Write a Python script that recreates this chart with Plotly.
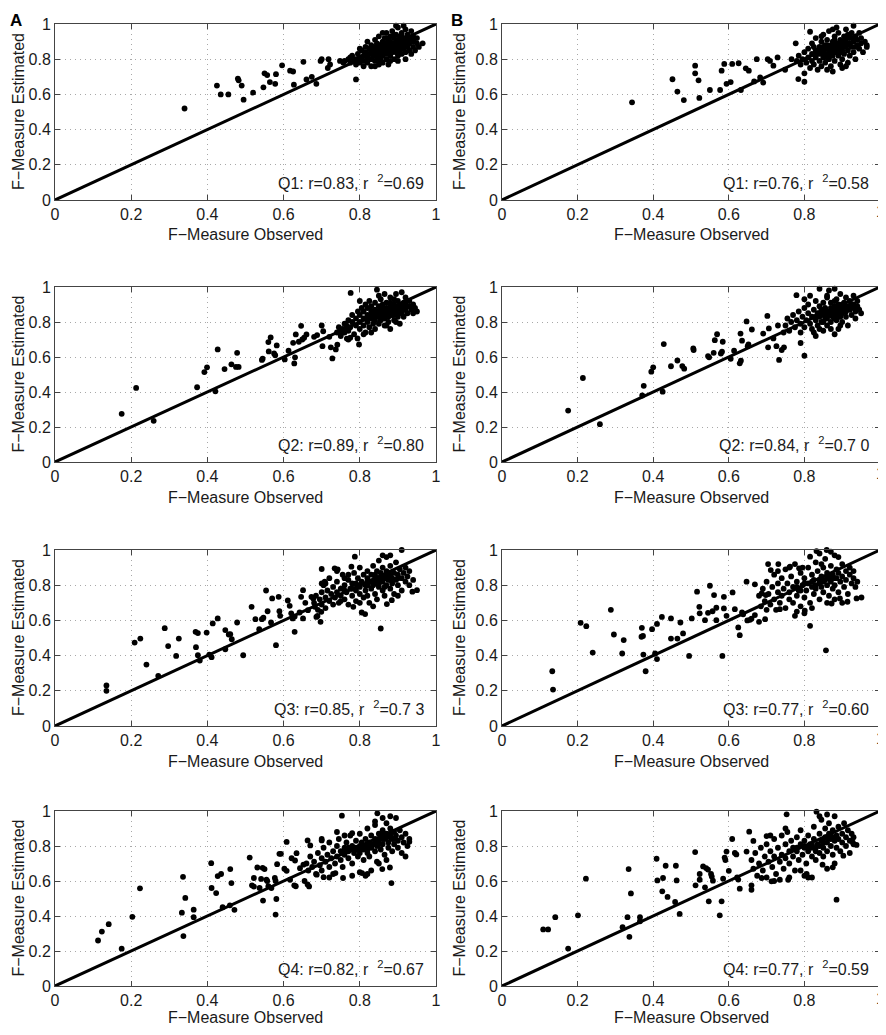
import plotly.graph_objects as go

# ---------------- data: (F-Measure observed, F-Measure estimated) ----------------
q1a = [
    (0.34, 0.52), (0.425, 0.65), (0.435, 0.60), (0.455, 0.60), (0.48, 0.69), (0.482, 0.68),
    (0.49, 0.65), (0.495, 0.57), (0.52, 0.61), (0.55, 0.72), (0.557, 0.71), (0.547, 0.64),
    (0.564, 0.67), (0.578, 0.66), (0.58, 0.715), (0.596, 0.765), (0.617, 0.735), (0.625, 0.73),
    (0.627, 0.655), (0.652, 0.785), (0.66, 0.685), (0.674, 0.70), (0.686, 0.66), (0.697, 0.79),
    (0.70, 0.80), (0.716, 0.75), (0.722, 0.77), (0.718, 0.80), (0.748, 0.79), (0.757, 0.78),
    (0.79, 0.685),
    (0.77, 0.80), (0.775, 0.78), (0.78, 0.82), (0.785, 0.79), (0.79, 0.80), (0.79, 0.77),
    (0.795, 0.83), (0.80, 0.81), (0.80, 0.78), (0.805, 0.85), (0.81, 0.82), (0.81, 0.79),
    (0.81, 0.76), (0.815, 0.84), (0.815, 0.87), (0.82, 0.81), (0.82, 0.78), (0.82, 0.90),
    (0.825, 0.83), (0.825, 0.86), (0.83, 0.80), (0.83, 0.84), (0.83, 0.88), (0.83, 0.76),
    (0.835, 0.82), (0.835, 0.86), (0.84, 0.79), (0.84, 0.83), (0.84, 0.87), (0.84, 0.91),
    (0.845, 0.81), (0.845, 0.85), (0.845, 0.89), (0.85, 0.77), (0.85, 0.83), (0.85, 0.86),
    (0.85, 0.93), (0.855, 0.80), (0.855, 0.88), (0.855, 0.84), (0.86, 0.82), (0.86, 0.86),
    (0.86, 0.90), (0.86, 0.78), (0.865, 0.84), (0.865, 0.88), (0.865, 0.92), (0.87, 0.80),
    (0.87, 0.83), (0.87, 0.86), (0.87, 0.89), (0.87, 0.95), (0.875, 0.85), (0.875, 0.91),
    (0.875, 0.77), (0.88, 0.82), (0.88, 0.87), (0.88, 0.90), (0.88, 0.93), (0.885, 0.84),
    (0.885, 0.88), (0.885, 0.96), (0.89, 0.80), (0.89, 0.86), (0.89, 0.89), (0.89, 0.92),
    (0.895, 0.84), (0.895, 0.90), (0.895, 0.94), (0.90, 0.82), (0.90, 0.87), (0.90, 0.88),
    (0.90, 0.91), (0.90, 0.98), (0.905, 0.85), (0.905, 0.89), (0.905, 0.93), (0.91, 0.83),
    (0.91, 0.87), (0.91, 0.90), (0.91, 0.95), (0.915, 0.86), (0.915, 0.92), (0.92, 0.80),
    (0.92, 0.84), (0.92, 0.88), (0.92, 0.91), (0.92, 0.97), (0.925, 0.87), (0.925, 0.94),
    (0.93, 0.85), (0.93, 0.89), (0.93, 0.92), (0.935, 0.83), (0.935, 0.96), (0.94, 0.87),
    (0.94, 0.90), (0.94, 0.93), (0.945, 0.85), (0.95, 0.89), (0.95, 0.92), (0.955, 0.87),
    (0.965, 0.89), (0.895, 0.99), (0.915, 0.99), (0.86, 0.95), (0.84, 0.76), (0.80, 0.86),
    (0.88, 0.79), (0.90, 0.79), (0.76, 0.79), (0.775, 0.81),
    (0.83, 0.85), (0.84, 0.85), (0.85, 0.88), (0.86, 0.88), (0.87, 0.87), (0.88, 0.88),
    (0.89, 0.88), (0.90, 0.89), (0.91, 0.89), (0.92, 0.90), (0.86, 0.84), (0.87, 0.84),
    (0.88, 0.85), (0.89, 0.85), (0.90, 0.86), (0.91, 0.88), (0.85, 0.82), (0.82, 0.82),
    (0.93, 0.90), (0.87, 0.92), (0.89, 0.94), (0.91, 0.93), (0.94, 0.91), (0.85, 0.80),
    (0.80, 0.80),
]

q1b = [
    (0.344, 0.555), (0.451, 0.686), (0.464, 0.616), (0.481, 0.568), (0.511, 0.72), (0.511, 0.763),
    (0.52, 0.68), (0.522, 0.58), (0.55, 0.625), (0.577, 0.625), (0.581, 0.735), (0.588, 0.773),
    (0.594, 0.66), (0.605, 0.67), (0.609, 0.773), (0.626, 0.777), (0.632, 0.625), (0.645, 0.748),
    (0.653, 0.735), (0.667, 0.674), (0.674, 0.80), (0.683, 0.696), (0.691, 0.667), (0.703, 0.80),
    (0.709, 0.79), (0.718, 0.763), (0.729, 0.81), (0.749, 0.74), (0.766, 0.80), (0.777, 0.89),
    (0.784, 0.687), (0.80, 0.672), (0.815, 0.956),
    (0.78, 0.79), (0.785, 0.82), (0.79, 0.77), (0.795, 0.80), (0.80, 0.84), (0.80, 0.72),
    (0.805, 0.78), (0.81, 0.81), (0.81, 0.86), (0.815, 0.75), (0.82, 0.83), (0.82, 0.79),
    (0.82, 0.89), (0.825, 0.77), (0.83, 0.85), (0.83, 0.81), (0.83, 0.92), (0.835, 0.74),
    (0.84, 0.87), (0.84, 0.83), (0.84, 0.79), (0.845, 0.90), (0.845, 0.76), (0.85, 0.85),
    (0.85, 0.81), (0.85, 0.94), (0.855, 0.88), (0.855, 0.78), (0.86, 0.83), (0.86, 0.86),
    (0.86, 0.91), (0.865, 0.80), (0.865, 0.96), (0.87, 0.84), (0.87, 0.88), (0.87, 0.76),
    (0.875, 0.90), (0.875, 0.82), (0.875, 0.73), (0.88, 0.86), (0.88, 0.93), (0.88, 0.79),
    (0.885, 0.84), (0.885, 0.89), (0.885, 0.98), (0.89, 0.82), (0.89, 0.87), (0.89, 0.95),
    (0.895, 0.91), (0.895, 0.77), (0.90, 0.85), (0.90, 0.88), (0.90, 0.80), (0.905, 0.93),
    (0.905, 0.83), (0.91, 0.87), (0.91, 0.90), (0.91, 0.97), (0.915, 0.85), (0.915, 0.78),
    (0.92, 0.89), (0.92, 0.92), (0.92, 0.82), (0.925, 0.95), (0.925, 0.87), (0.93, 0.90),
    (0.93, 0.84), (0.93, 0.99), (0.935, 0.93), (0.935, 0.80), (0.94, 0.88), (0.94, 0.91),
    (0.945, 0.86), (0.945, 0.95), (0.95, 0.89), (0.95, 0.92), (0.955, 0.84), (0.96, 0.90),
    (0.965, 0.87), (0.965, 0.88), (0.91, 0.76), (0.90, 0.75), (0.86, 0.74), (0.825, 0.87),
    (0.845, 0.93), (0.865, 0.85), (0.895, 0.84), (0.935, 0.87), (0.915, 0.94), (0.875, 0.97),
    (0.84, 0.85), (0.85, 0.87), (0.86, 0.88), (0.87, 0.86), (0.88, 0.88), (0.89, 0.89),
    (0.90, 0.90), (0.91, 0.89), (0.92, 0.88), (0.87, 0.82), (0.88, 0.84), (0.89, 0.85),
    (0.90, 0.87), (0.86, 0.81), (0.83, 0.83), (0.93, 0.91), (0.92, 0.94), (0.88, 0.91),
    (0.85, 0.83), (0.91, 0.92),
]

q2a = [
    (0.175, 0.275), (0.213, 0.423), (0.259, 0.235), (0.373, 0.427), (0.392, 0.514), (0.399, 0.541),
    (0.421, 0.404), (0.427, 0.643), (0.445, 0.531), (0.463, 0.558), (0.475, 0.543), (0.482, 0.543),
    (0.478, 0.624), (0.543, 0.583), (0.545, 0.59), (0.56, 0.685), (0.566, 0.712), (0.561, 0.632),
    (0.575, 0.62), (0.578, 0.61), (0.582, 0.666), (0.603, 0.586), (0.613, 0.636), (0.625, 0.681),
    (0.628, 0.563), (0.63, 0.598), (0.632, 0.729), (0.64, 0.687), (0.646, 0.778), (0.649, 0.70),
    (0.654, 0.71), (0.66, 0.729), (0.68, 0.715), (0.688, 0.725), (0.70, 0.78), (0.702, 0.662),
    (0.704, 0.747), (0.72, 0.715), (0.724, 0.655), (0.728, 0.592), (0.737, 0.643), (0.741, 0.67),
    (0.75, 0.73), (0.77, 0.70), (0.766, 0.705), (0.776, 0.966), (0.794, 0.706), (0.798, 0.672),
    (0.74, 0.74), (0.745, 0.77), (0.75, 0.72), (0.755, 0.76), (0.76, 0.79), (0.76, 0.74),
    (0.765, 0.78), (0.77, 0.81), (0.77, 0.75), (0.775, 0.77), (0.78, 0.80), (0.78, 0.84),
    (0.785, 0.73), (0.79, 0.78), (0.79, 0.82), (0.795, 0.86), (0.80, 0.76), (0.80, 0.80),
    (0.80, 0.84), (0.805, 0.88), (0.81, 0.78), (0.81, 0.82), (0.81, 0.86), (0.815, 0.74),
    (0.815, 0.90), (0.82, 0.80), (0.82, 0.84), (0.82, 0.88), (0.825, 0.77), (0.825, 0.92),
    (0.83, 0.82), (0.83, 0.86), (0.83, 0.89), (0.835, 0.79), (0.835, 0.84), (0.84, 0.76),
    (0.84, 0.81), (0.84, 0.87), (0.84, 0.91), (0.845, 0.84), (0.845, 0.985), (0.85, 0.79),
    (0.85, 0.83), (0.85, 0.86), (0.85, 0.89), (0.855, 0.81), (0.855, 0.93), (0.86, 0.84),
    (0.86, 0.87), (0.86, 0.90), (0.865, 0.78), (0.865, 0.82), (0.865, 0.96), (0.87, 0.85),
    (0.87, 0.88), (0.87, 0.91), (0.875, 0.80), (0.875, 0.83), (0.875, 0.86), (0.88, 0.76),
    (0.88, 0.89), (0.88, 0.94), (0.885, 0.84), (0.885, 0.87), (0.89, 0.81), (0.89, 0.86),
    (0.89, 0.90), (0.895, 0.88), (0.895, 0.96), (0.90, 0.83), (0.90, 0.86), (0.90, 0.92),
    (0.905, 0.89), (0.905, 0.79), (0.91, 0.85), (0.91, 0.88), (0.91, 0.97), (0.915, 0.91),
    (0.915, 0.83), (0.92, 0.87), (0.92, 0.90), (0.92, 0.94), (0.925, 0.85), (0.93, 0.89),
    (0.93, 0.92), (0.935, 0.87), (0.94, 0.90), (0.94, 0.85), (0.945, 0.88), (0.95, 0.86),
    (0.89, 0.93), (0.87, 0.78), (0.895, 0.80), (0.83, 0.74), (0.81, 0.73), (0.775, 0.71),
    (0.80, 0.92), (0.85, 0.95),
    (0.84, 0.85), (0.85, 0.85), (0.86, 0.86), (0.87, 0.87), (0.88, 0.87), (0.89, 0.88),
    (0.90, 0.88), (0.91, 0.90), (0.86, 0.83), (0.87, 0.83), (0.88, 0.84), (0.89, 0.84),
    (0.90, 0.85), (0.83, 0.84), (0.82, 0.82), (0.92, 0.89), (0.88, 0.91), (0.86, 0.88),
    (0.84, 0.83), (0.91, 0.86),
]

q2b = [
    (0.175, 0.294), (0.214, 0.48), (0.259, 0.216), (0.371, 0.38), (0.375, 0.435), (0.395, 0.516),
    (0.40, 0.541), (0.425, 0.402), (0.428, 0.674), (0.447, 0.547), (0.464, 0.58), (0.477, 0.548),
    (0.482, 0.533), (0.506, 0.649), (0.507, 0.64), (0.545, 0.605), (0.548, 0.598), (0.563, 0.696),
    (0.569, 0.73), (0.56, 0.624), (0.579, 0.62), (0.582, 0.63), (0.584, 0.687), (0.605, 0.59),
    (0.614, 0.636), (0.629, 0.564), (0.632, 0.579), (0.631, 0.734), (0.635, 0.693), (0.647, 0.803),
    (0.65, 0.662), (0.652, 0.672), (0.661, 0.757), (0.691, 0.734), (0.702, 0.835), (0.704, 0.655),
    (0.706, 0.763), (0.718, 0.706), (0.726, 0.662), (0.733, 0.583), (0.74, 0.64), (0.746, 0.655),
    (0.779, 0.953), (0.80, 0.607), (0.79, 0.68), (0.73, 0.78), (0.745, 0.74),
    (0.75, 0.78), (0.755, 0.82), (0.76, 0.75), (0.765, 0.80), (0.77, 0.84), (0.775, 0.77),
    (0.78, 0.81), (0.785, 0.86), (0.79, 0.74), (0.79, 0.79), (0.795, 0.83), (0.80, 0.88),
    (0.80, 0.77), (0.805, 0.81), (0.81, 0.85), (0.81, 0.90), (0.815, 0.79), (0.815, 0.95),
    (0.82, 0.83), (0.82, 0.76), (0.825, 0.87), (0.83, 0.81), (0.83, 0.92), (0.83, 0.72),
    (0.835, 0.85), (0.835, 0.78), (0.84, 0.89), (0.84, 0.83), (0.84, 0.99), (0.845, 0.80),
    (0.845, 0.87), (0.85, 0.75), (0.85, 0.84), (0.85, 0.91), (0.855, 0.82), (0.855, 0.88),
    (0.86, 0.78), (0.86, 0.86), (0.86, 0.94), (0.865, 0.84), (0.865, 0.98), (0.87, 0.80),
    (0.87, 0.88), (0.87, 0.91), (0.875, 0.83), (0.875, 0.86), (0.88, 0.73), (0.88, 0.89),
    (0.88, 0.99), (0.885, 0.81), (0.885, 0.85), (0.885, 0.93), (0.89, 0.76), (0.89, 0.87),
    (0.89, 0.90), (0.895, 0.83), (0.895, 0.96), (0.90, 0.85), (0.90, 0.88), (0.90, 0.80),
    (0.905, 0.91), (0.91, 0.86), (0.91, 0.83), (0.91, 0.94), (0.915, 0.89), (0.915, 0.78),
    (0.92, 0.87), (0.92, 0.92), (0.925, 0.84), (0.925, 0.90), (0.93, 0.88), (0.93, 0.95),
    (0.935, 0.86), (0.94, 0.89), (0.94, 0.92), (0.945, 0.87), (0.95, 0.85), (0.87, 0.76),
    (0.825, 0.74), (0.80, 0.93), (0.86, 0.95), (0.895, 0.78), (0.935, 0.82), (0.84, 0.76),
    (0.84, 0.85), (0.85, 0.86), (0.86, 0.84), (0.87, 0.86), (0.88, 0.87), (0.89, 0.85),
    (0.90, 0.87), (0.91, 0.88), (0.86, 0.82), (0.88, 0.82), (0.89, 0.83), (0.92, 0.89),
    (0.83, 0.83), (0.85, 0.80), (0.87, 0.84), (0.90, 0.90), (0.88, 0.92), (0.93, 0.90),
]

q3a = [
    (0.135, 0.23), (0.135, 0.20), (0.209, 0.474), (0.224, 0.497), (0.24, 0.349), (0.271, 0.285),
    (0.288, 0.556), (0.297, 0.454), (0.318, 0.398), (0.325, 0.497), (0.369, 0.535), (0.375, 0.528),
    (0.37, 0.448), (0.375, 0.402), (0.38, 0.372), (0.398, 0.531), (0.405, 0.406), (0.411, 0.391),
    (0.414, 0.583), (0.427, 0.611), (0.447, 0.545), (0.447, 0.436), (0.456, 0.52), (0.46, 0.522),
    (0.464, 0.493), (0.478, 0.588), (0.494, 0.402), (0.516, 0.677), (0.526, 0.607), (0.536, 0.55),
    (0.543, 0.607), (0.547, 0.615), (0.554, 0.77), (0.558, 0.652), (0.567, 0.588), (0.57, 0.725),
    (0.58, 0.459), (0.587, 0.734), (0.589, 0.652), (0.591, 0.626), (0.611, 0.713), (0.616, 0.683),
    (0.62, 0.64), (0.624, 0.611), (0.629, 0.622), (0.629, 0.535), (0.642, 0.645), (0.646, 0.734),
    (0.651, 0.772), (0.651, 0.611), (0.657, 0.70), (0.664, 0.658), (0.673, 0.734), (0.678, 0.725),
    (0.682, 0.677), (0.686, 0.62), (0.689, 0.625), (0.699, 0.649), (0.697, 0.592), (0.70, 0.81),
    (0.70, 0.892), (0.708, 0.82), (0.734, 0.896), (0.742, 0.89), (0.778, 0.905), (0.783, 0.677),
    (0.787, 0.962), (0.805, 0.645), (0.814, 0.636), (0.855, 0.554), (0.871, 0.693), (0.884, 0.715),
    (0.91, 1.0), (0.938, 0.763), (0.95, 0.772),
    (0.68, 0.70), (0.685, 0.74), (0.69, 0.66), (0.695, 0.72), (0.70, 0.76), (0.70, 0.69),
    (0.705, 0.80), (0.71, 0.73), (0.71, 0.67), (0.715, 0.77), (0.72, 0.71), (0.72, 0.84),
    (0.725, 0.75), (0.73, 0.69), (0.73, 0.79), (0.735, 0.73), (0.74, 0.76), (0.74, 0.82),
    (0.745, 0.70), (0.75, 0.74), (0.75, 0.78), (0.755, 0.86), (0.76, 0.72), (0.76, 0.80),
    (0.765, 0.76), (0.77, 0.83), (0.77, 0.69), (0.775, 0.78), (0.78, 0.74), (0.78, 0.81),
    (0.785, 0.87), (0.79, 0.77), (0.79, 0.71), (0.795, 0.84), (0.80, 0.79), (0.80, 0.75),
    (0.80, 0.90), (0.805, 0.82), (0.81, 0.73), (0.81, 0.86), (0.815, 0.80), (0.815, 0.77),
    (0.82, 0.84), (0.82, 0.88), (0.825, 0.70), (0.825, 0.82), (0.83, 0.78), (0.83, 0.86),
    (0.835, 0.80), (0.835, 0.91), (0.84, 0.75), (0.84, 0.83), (0.84, 0.85), (0.845, 0.88),
    (0.845, 0.72), (0.85, 0.81), (0.85, 0.79), (0.85, 0.94), (0.855, 0.84), (0.855, 0.87),
    (0.86, 0.77), (0.86, 0.82), (0.86, 0.90), (0.865, 0.85), (0.865, 0.74), (0.87, 0.80),
    (0.87, 0.88), (0.87, 0.96), (0.875, 0.83), (0.875, 0.86), (0.88, 0.78), (0.88, 0.91),
    (0.885, 0.84), (0.885, 0.81), (0.89, 0.87), (0.89, 0.75), (0.895, 0.83), (0.895, 0.93),
    (0.90, 0.86), (0.90, 0.80), (0.905, 0.89), (0.91, 0.84), (0.91, 0.77), (0.915, 0.87),
    (0.92, 0.82), (0.92, 0.90), (0.925, 0.85), (0.93, 0.80), (0.93, 0.88), (0.94, 0.83),
    (0.88, 0.97), (0.86, 0.97), (0.80, 0.70), (0.77, 0.86), (0.74, 0.88), (0.835, 0.68),
    (0.90, 0.74), (0.71, 0.81), (0.76, 0.84), (0.82, 0.74), (0.845, 0.82), (0.865, 0.79),
    (0.79, 0.81), (0.75, 0.71),
    (0.80, 0.80), (0.82, 0.80), (0.83, 0.82), (0.84, 0.81), (0.85, 0.83), (0.86, 0.84),
    (0.87, 0.84), (0.88, 0.83), (0.86, 0.85), (0.84, 0.86), (0.78, 0.78), (0.76, 0.77),
    (0.88, 0.86), (0.90, 0.84), (0.82, 0.82), (0.87, 0.86),
]

q3b = [
    (0.133, 0.311), (0.135, 0.207), (0.208, 0.586), (0.223, 0.567), (0.24, 0.417), (0.288, 0.66),
    (0.296, 0.52), (0.318, 0.412), (0.322, 0.488), (0.37, 0.558), (0.369, 0.507), (0.373, 0.512),
    (0.374, 0.406), (0.38, 0.311), (0.397, 0.55), (0.405, 0.412), (0.41, 0.38), (0.41, 0.58),
    (0.423, 0.62), (0.447, 0.611), (0.447, 0.497), (0.464, 0.497), (0.472, 0.588), (0.479, 0.526),
    (0.495, 0.398), (0.502, 0.611), (0.516, 0.763), (0.522, 0.677), (0.523, 0.64), (0.537, 0.601),
    (0.545, 0.643), (0.55, 0.797), (0.557, 0.652), (0.561, 0.744), (0.567, 0.672), (0.567, 0.601),
    (0.583, 0.398), (0.587, 0.734), (0.587, 0.668), (0.594, 0.626), (0.61, 0.759), (0.616, 0.664),
    (0.625, 0.56), (0.629, 0.516), (0.635, 0.645), (0.638, 0.635), (0.647, 0.82), (0.649, 0.60),
    (0.656, 0.603), (0.66, 0.61), (0.669, 0.63), (0.669, 0.805), (0.68, 0.592), (0.687, 0.753),
    (0.696, 0.607), (0.698, 0.744), (0.704, 0.92), (0.711, 0.886), (0.731, 0.92), (0.735, 0.664),
    (0.762, 0.905), (0.775, 0.626), (0.786, 0.896), (0.801, 0.655), (0.815, 0.569), (0.815, 0.962),
    (0.832, 0.994), (0.859, 1.0), (0.857, 0.43), (0.872, 0.696), (0.894, 0.725), (0.914, 0.706),
    (0.938, 0.725), (0.951, 0.73),
    (0.68, 0.74), (0.685, 0.68), (0.69, 0.78), (0.695, 0.71), (0.70, 0.82), (0.70, 0.66),
    (0.705, 0.75), (0.71, 0.69), (0.715, 0.79), (0.72, 0.86), (0.72, 0.72), (0.725, 0.66),
    (0.73, 0.76), (0.73, 0.81), (0.735, 0.70), (0.74, 0.84), (0.74, 0.74), (0.745, 0.78),
    (0.75, 0.67), (0.75, 0.89), (0.755, 0.81), (0.76, 0.72), (0.76, 0.76), (0.765, 0.85),
    (0.77, 0.79), (0.77, 0.70), (0.775, 0.92), (0.78, 0.74), (0.78, 0.82), (0.785, 0.77),
    (0.79, 0.87), (0.79, 0.68), (0.795, 0.80), (0.80, 0.84), (0.80, 0.73), (0.805, 0.77),
    (0.81, 0.90), (0.81, 0.81), (0.815, 0.70), (0.82, 0.79), (0.82, 0.86), (0.825, 0.75),
    (0.825, 0.83), (0.83, 0.93), (0.83, 0.78), (0.835, 0.88), (0.84, 0.81), (0.84, 0.72),
    (0.845, 0.85), (0.845, 0.79), (0.85, 0.90), (0.85, 0.76), (0.855, 0.83), (0.855, 0.95),
    (0.86, 0.80), (0.86, 0.87), (0.865, 0.74), (0.865, 0.84), (0.87, 0.91), (0.87, 0.82),
    (0.875, 0.78), (0.875, 0.86), (0.88, 0.97), (0.88, 0.80), (0.885, 0.89), (0.885, 0.84),
    (0.89, 0.76), (0.89, 0.87), (0.895, 0.82), (0.90, 0.92), (0.90, 0.85), (0.905, 0.79),
    (0.91, 0.88), (0.91, 0.83), (0.915, 0.75), (0.92, 0.86), (0.92, 0.90), (0.925, 0.81),
    (0.93, 0.84), (0.93, 0.88), (0.935, 0.79), (0.94, 0.82), (0.84, 0.98), (0.87, 0.99),
    (0.89, 0.96), (0.76, 0.90), (0.73, 0.88), (0.80, 0.64), (0.78, 0.65), (0.86, 0.70),
    (0.88, 0.72), (0.82, 0.67), (0.90, 0.70), (0.795, 0.90), (0.845, 0.92),
    (0.82, 0.82), (0.83, 0.80), (0.84, 0.83), (0.85, 0.82), (0.86, 0.84), (0.87, 0.85),
    (0.80, 0.81), (0.78, 0.79), (0.88, 0.84), (0.79, 0.77),
]

q4a = [
    (0.113, 0.26), (0.123, 0.311), (0.141, 0.353), (0.175, 0.213), (0.203, 0.395), (0.223, 0.558),
    (0.333, 0.419), (0.336, 0.624), (0.337, 0.285), (0.342, 0.503), (0.364, 0.436), (0.364, 0.393),
    (0.41, 0.702), (0.411, 0.56), (0.423, 0.531), (0.427, 0.628), (0.436, 0.64), (0.44, 0.45),
    (0.459, 0.461), (0.46, 0.668), (0.463, 0.588), (0.471, 0.435), (0.511, 0.734), (0.517, 0.575),
    (0.522, 0.568), (0.522, 0.617), (0.531, 0.677), (0.537, 0.56), (0.541, 0.612), (0.545, 0.675),
    (0.55, 0.668), (0.546, 0.488), (0.555, 0.607), (0.557, 0.60), (0.56, 0.57), (0.568, 0.56),
    (0.577, 0.617), (0.579, 0.60), (0.579, 0.408), (0.581, 0.497), (0.583, 0.696), (0.589, 0.755),
    (0.593, 0.755), (0.602, 0.67), (0.608, 0.823), (0.608, 0.658), (0.617, 0.607), (0.628, 0.575),
    (0.632, 0.57), (0.621, 0.73), (0.63, 0.717), (0.634, 0.759), (0.643, 0.673), (0.652, 0.693),
    (0.655, 0.60), (0.663, 0.58), (0.663, 0.832), (0.667, 0.569), (0.67, 0.803), (0.687, 0.636),
    (0.70, 0.832), (0.705, 0.622), (0.736, 0.645), (0.753, 0.973), (0.756, 0.617), (0.78, 0.873),
    (0.806, 0.645), (0.815, 0.63), (0.846, 0.987), (0.859, 0.668), (0.879, 0.677), (0.883, 0.588),
    (0.92, 0.74), (0.93, 0.825),
    (0.66, 0.70), (0.665, 0.66), (0.67, 0.74), (0.675, 0.68), (0.68, 0.71), (0.685, 0.64),
    (0.69, 0.76), (0.695, 0.69), (0.70, 0.73), (0.70, 0.66), (0.705, 0.79), (0.71, 0.71),
    (0.715, 0.75), (0.72, 0.68), (0.72, 0.82), (0.725, 0.73), (0.73, 0.77), (0.73, 0.64),
    (0.735, 0.70), (0.74, 0.80), (0.74, 0.74), (0.745, 0.84), (0.75, 0.72), (0.75, 0.77),
    (0.755, 0.68), (0.76, 0.79), (0.76, 0.75), (0.765, 0.82), (0.77, 0.73), (0.77, 0.77),
    (0.775, 0.86), (0.78, 0.80), (0.78, 0.70), (0.785, 0.76), (0.79, 0.78), (0.79, 0.83),
    (0.795, 0.74), (0.80, 0.80), (0.80, 0.76), (0.80, 0.87), (0.805, 0.82), (0.81, 0.72),
    (0.81, 0.78), (0.815, 0.80), (0.815, 0.84), (0.82, 0.76), (0.82, 0.90), (0.825, 0.82),
    (0.825, 0.74), (0.83, 0.79), (0.83, 0.86), (0.835, 0.81), (0.84, 0.77), (0.84, 0.84),
    (0.84, 0.92), (0.845, 0.80), (0.845, 0.71), (0.85, 0.83), (0.85, 0.87), (0.855, 0.78),
    (0.855, 0.85), (0.86, 0.81), (0.86, 0.89), (0.865, 0.75), (0.865, 0.84), (0.87, 0.87),
    (0.87, 0.93), (0.875, 0.82), (0.875, 0.79), (0.88, 0.85), (0.88, 0.90), (0.885, 0.77),
    (0.885, 0.84), (0.89, 0.88), (0.89, 0.81), (0.895, 0.86), (0.895, 0.96), (0.90, 0.83),
    (0.90, 0.79), (0.905, 0.89), (0.91, 0.85), (0.91, 0.76), (0.915, 0.82), (0.92, 0.87),
    (0.925, 0.80), (0.93, 0.84), (0.86, 0.96), (0.84, 0.94), (0.88, 0.97), (0.76, 0.86),
    (0.72, 0.62), (0.78, 0.63), (0.82, 0.64), (0.85, 0.70), (0.87, 0.72), (0.70, 0.84),
    (0.74, 0.88), (0.83, 0.66), (0.80, 0.65),
    (0.78, 0.78), (0.79, 0.79), (0.80, 0.78), (0.81, 0.80), (0.82, 0.81), (0.83, 0.80),
    (0.84, 0.82), (0.85, 0.81), (0.86, 0.84), (0.87, 0.85), (0.88, 0.86), (0.77, 0.79),
    (0.76, 0.77), (0.82, 0.78), (0.86, 0.87), (0.89, 0.84),
]

q4b = [
    (0.109, 0.323), (0.122, 0.323), (0.141, 0.393), (0.175, 0.214), (0.201, 0.404), (0.222, 0.613),
    (0.319, 0.336), (0.332, 0.393), (0.335, 0.668), (0.337, 0.281), (0.341, 0.529), (0.365, 0.393),
    (0.365, 0.37), (0.409, 0.727), (0.411, 0.603), (0.424, 0.541), (0.426, 0.617), (0.433, 0.687),
    (0.438, 0.509), (0.46, 0.687), (0.462, 0.603), (0.458, 0.48), (0.47, 0.412), (0.511, 0.765),
    (0.512, 0.575), (0.523, 0.607), (0.523, 0.64), (0.532, 0.683), (0.54, 0.674), (0.545, 0.665),
    (0.537, 0.564), (0.547, 0.484), (0.553, 0.64), (0.555, 0.625), (0.558, 0.602), (0.576, 0.404),
    (0.581, 0.484), (0.585, 0.613), (0.589, 0.734), (0.591, 0.72), (0.594, 0.768), (0.60, 0.658),
    (0.609, 0.84), (0.616, 0.76), (0.62, 0.752), (0.622, 0.62), (0.625, 0.608), (0.629, 0.556),
    (0.647, 0.768), (0.654, 0.882), (0.66, 0.575), (0.66, 0.55), (0.665, 0.829), (0.687, 0.617),
    (0.70, 0.857), (0.713, 0.598), (0.735, 0.607), (0.753, 0.981), (0.757, 0.607), (0.806, 0.64),
    (0.81, 0.62), (0.832, 0.996), (0.848, 0.693), (0.875, 0.678), (0.885, 0.493), (0.903, 0.745),
    (0.928, 0.821), (0.938, 0.806),
    (0.66, 0.72), (0.665, 0.67), (0.67, 0.76), (0.675, 0.63), (0.68, 0.70), (0.685, 0.79),
    (0.69, 0.66), (0.695, 0.74), (0.70, 0.81), (0.70, 0.62), (0.705, 0.71), (0.71, 0.77),
    (0.715, 0.68), (0.72, 0.84), (0.72, 0.74), (0.725, 0.64), (0.73, 0.79), (0.735, 0.71),
    (0.74, 0.86), (0.74, 0.75), (0.745, 0.67), (0.75, 0.81), (0.75, 0.73), (0.755, 0.88),
    (0.76, 0.77), (0.76, 0.70), (0.765, 0.83), (0.77, 0.74), (0.77, 0.79), (0.775, 0.66),
    (0.78, 0.85), (0.78, 0.77), (0.785, 0.72), (0.79, 0.81), (0.79, 0.89), (0.795, 0.75),
    (0.80, 0.79), (0.80, 0.83), (0.805, 0.70), (0.81, 0.77), (0.81, 0.86), (0.815, 0.81),
    (0.82, 0.74), (0.82, 0.79), (0.825, 0.91), (0.825, 0.84), (0.83, 0.77), (0.83, 0.72),
    (0.835, 0.81), (0.84, 0.87), (0.84, 0.76), (0.845, 0.83), (0.845, 0.95), (0.85, 0.79),
    (0.85, 0.74), (0.855, 0.85), (0.855, 0.90), (0.86, 0.82), (0.86, 0.77), (0.865, 0.87),
    (0.865, 0.93), (0.87, 0.80), (0.87, 0.84), (0.875, 0.75), (0.875, 0.89), (0.88, 0.83),
    (0.88, 0.97), (0.885, 0.86), (0.885, 0.79), (0.89, 0.91), (0.89, 0.84), (0.895, 0.77),
    (0.90, 0.87), (0.90, 0.82), (0.905, 0.93), (0.91, 0.85), (0.91, 0.80), (0.915, 0.89),
    (0.92, 0.83), (0.92, 0.76), (0.925, 0.87), (0.93, 0.81), (0.93, 0.85), (0.86, 0.98),
    (0.84, 0.97), (0.72, 0.60), (0.76, 0.62), (0.80, 0.63), (0.82, 0.62), (0.86, 0.67),
    (0.88, 0.70), (0.75, 0.90), (0.71, 0.86), (0.79, 0.66),
    (0.80, 0.80), (0.81, 0.79), (0.82, 0.81), (0.83, 0.79), (0.84, 0.80), (0.85, 0.82),
    (0.86, 0.85), (0.87, 0.86), (0.88, 0.85), (0.78, 0.79),
]

# panel order: row-major, columns A | B
panel_points = [q1a, q1b, q2a, q2b, q3a, q3b, q4a, q4b]
panel_question = ["Q1", "Q1", "Q2", "Q2", "Q3", "Q3", "Q4", "Q4"]
panel_r = ["0.83", "0.76", "0.89", "0.84", "0.85", "0.77", "0.82", "0.77"]
panel_r2 = ["0.69", "0.58", "0.80", "0.7 0", "0.7 3", "0.60", "0.67", "0.59"]
column_letters = ["A", "B"]
diag = [0, 1]
tick_vals = [0, 0.2, 0.4, 0.6, 0.8, 1]
tick_text = ["0", "0.2", "0.4", "0.6", "0.8", "1"]
x_title = "F\u2212Measure Observed"
y_title = "F\u2212Measure Estimated"

# ---------------- layout geometry ----------------
# reference page is 886 x 1035; the html body adds an 8px margin at the left/top,
# so the figure is placed from page pixel 8 and sized to end at the page edge.
PAGE_W, PAGE_H = 886, 1035
OFF = 8
W, H = PAGE_W - OFF, PAGE_H - 2 * OFF
col_px = [(55, 436), (502, 880)]
row_px = [(24, 200), (287, 462), (550, 726), (811, 986)]
FONT = "Liberation Sans, Arial, sans-serif"
TXT = "#1a1a1a"


def px_x(v):
    return min(1.0, max(0.0, (v - OFF) / W))


def px_y(v):
    return min(1.0, max(0.0, 1 - (v - OFF) / H))


fig = go.Figure()
annotations = []
layout = {}

for i, pts in enumerate(panel_points):
    r, c = divmod(i, 2)
    ax = "" if i == 0 else str(i + 1)
    xs = [p[0] for p in pts]
    ys = [p[1] for p in pts]
    fig.add_trace(go.Scatter(
        x=xs, y=ys, mode="markers", xaxis="x" + ax, yaxis="y" + ax,
        marker=dict(size=5.8, color="black", line=dict(width=0)),
        showlegend=False, hoverinfo="skip", cliponaxis=False))
    fig.add_trace(go.Scatter(
        x=diag, y=diag, mode="lines", xaxis="x" + ax, yaxis="y" + ax,
        line=dict(color="black", width=3), showlegend=False, hoverinfo="skip"))

    x0, x1 = col_px[c]
    yt, yb = row_px[r]
    common = dict(range=[0, 1], tickvals=tick_vals,
                  showgrid=True, gridcolor="#a8a8a8", griddash="1px,4px", gridwidth=1,
                  showline=True, mirror="ticks", linecolor="#444444", linewidth=1,
                  ticks="inside", ticklen=5, tickcolor="#444444", zeroline=False,
                  automargin=False, ticklabeloverflow="allow",
                  tickfont=dict(size=16, family=FONT, color=TXT), fixedrange=True)
    # the right column's last x label sits on the page edge, where plotly drops it;
    # it is written as an annotation at the same spot instead.
    x_text = tick_text if c == 0 else tick_text[:-1] + [""]
    layout["xaxis" + ax] = dict(domain=[px_x(x0), px_x(x1)], anchor="y" + ax,
                                ticktext=x_text, **common)
    layout["yaxis" + ax] = dict(domain=[px_y(yb), px_y(yt)], anchor="x" + ax,
                                ticktext=tick_text, **common)
    if c == 1:
        annotations.append(dict(
            xref="x" + ax, yref="y" + ax + " domain", x=tick_vals[-1], y=0,
            yshift=-12, xanchor="center", yanchor="middle", showarrow=False,
            text=tick_text[-1], font=dict(size=16, family=FONT, color=TXT)))

    # statistics label
    annotations.append(dict(
        xref="x" + ax, yref="y" + ax, x=0.975, y=0.105, xanchor="right", yanchor="middle",
        showarrow=False,
        text=f"{panel_question[i]}: r={panel_r[i]}, r\u00a0\u00a0<sup>2</sup>={panel_r2[i]}",
        font=dict(size=16, family=FONT, color=TXT)))
    # x title (kept inside the drawable page area)
    annotations.append(dict(
        xref="paper", yref="paper", x=px_x((x0 + x1) / 2), y=px_y(min(yb + 35, 1017)),
        xanchor="center", yanchor="middle", showarrow=False, text=x_title,
        font=dict(size=16, family=FONT, color=TXT)))
    # y title (kept inside the drawable page area)
    annotations.append(dict(
        xref="paper", yref="paper", x=px_x(max(x0 - 43, 18)), y=px_y((yt + yb) / 2),
        xanchor="center", yanchor="middle", showarrow=False, text=y_title, textangle=-90,
        font=dict(size=16, family=FONT, color=TXT)))

for c, letter in enumerate(column_letters):
    annotations.append(dict(
        xref="paper", yref="paper", x=px_x(8 if c == 0 else 449), y=px_y(9),
        xanchor="left", yanchor="top", showarrow=False, text=f"<b>{letter}</b>",
        font=dict(size=17, family=FONT, color="black")))

fig.update_layout(
    width=W, height=H, autosize=False,
    margin=dict(l=0, r=0, t=0, b=0),
    paper_bgcolor="white", plot_bgcolor="white",
    annotations=annotations, **layout)

fig.write_html("out.html")
